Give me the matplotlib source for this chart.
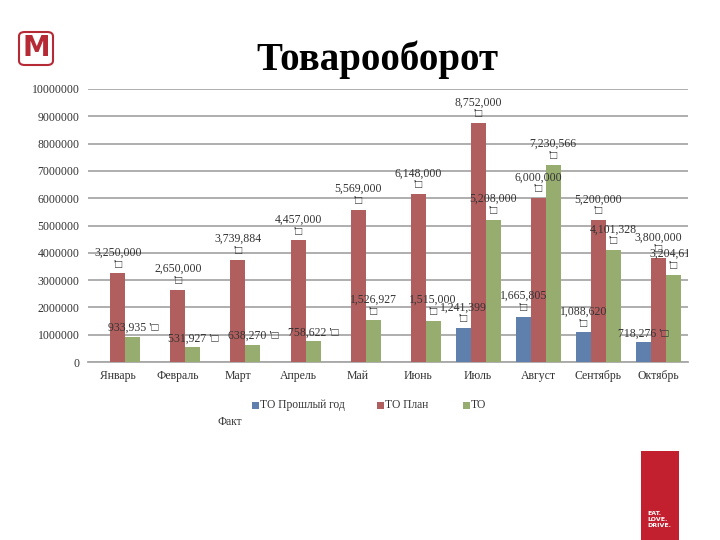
import numpy as np
import matplotlib
matplotlib.use("Agg")
from matplotlib import pyplot as plt
from matplotlib.patches import FancyBboxPatch, Rectangle

# data
months = ["Январь", "Февраль", "Март", "Апрель", "Май", "Июнь",
          "Июль", "Август", "Сентябрь", "Октябрь"]
prev_year = [0, 0, 0, 0, 0, 0, 1241399, 1665805, 1088620, 718276]
plan = [3250000, 2650000, 3739884, 4457000, 5569000, 6148000,
        8752000, 6000000, 5200000, 3800000]
fact = [933935, 531927, 638270, 758622, 1526927, 1515000,
        5208000, 7230566, 4101328, 3204610]
series_names = ["ТО Прошлый год", "ТО План", "ТО"]
yticks = [0, 1000000, 2000000, 3000000, 4000000, 5000000,
          6000000, 7000000, 8000000, 9000000, 10000000]

c_blue = "#5f80ad"
c_red = "#b05f5e"
c_green = "#97ad70"
colors = [c_blue, c_red, c_green]
serif = ["Liberation Serif", "DejaVu Serif"]
lab_font = ["Liberation Serif", "DejaVu Sans"]

fig = plt.figure(figsize=(7.2, 5.4), dpi=100)
ax = fig.add_axes([0.122, 0.3296, 0.834, 0.5056])

x = np.arange(len(months))
w = 0.25
ax.bar(x - w, prev_year, w, color=c_blue, zorder=3)
ax.bar(x, plan, w, color=c_red, zorder=3)
ax.bar(x + w, fact, w, color=c_green, zorder=3)

ax.set_xlim(-0.5, len(months) - 0.5)
ax.set_ylim(0, 10000000)
ax.set_yticks(yticks)
ax.set_yticklabels([str(v) for v in yticks], family=serif, fontsize=8.5, color="#333333")
ax.set_xticks(x)
ax.set_xticklabels(months, family=serif, fontsize=8.5, color="#333333")
ax.tick_params(length=0, pad=6)
ax.grid(axis="y", color="#a8a8a8", lw=1.3, zorder=0)
for s in ["top", "right", "left"]:
    ax.spines[s].set_visible(False)
ax.spines["bottom"].set_color("#a8a8a8")
ax.spines["bottom"].set_linewidth(1.3)


def label(xpos, val, one_line=False):
    txt = "{:,}".format(val)
    if one_line:
        s = txt + " '\u25a1"
    else:
        s = txt + "\n'\u25a1"
    ax.annotate(s, (xpos, val), xytext=(0, 2), textcoords="offset points",
                ha="center", va="bottom", family=lab_font, fontsize=8.5,
                color="#333333", linespacing=1.0, clip_on=True, zorder=4,
                annotation_clip=False)


for i in range(len(months)):
    if prev_year[i] > 0:
        label(x[i] - w, prev_year[i], one_line=(i == 9))
    label(x[i], plan[i])
    label(x[i] + w, fact[i], one_line=(i < 4))

# legend (drawn by hand to keep the odd wrapping of the original)
leg_x = [252, 377, 463]
leg_y = 405
for name, col, lx in zip(series_names, colors, leg_x):
    fig.patches.append(Rectangle((lx / 720, 1 - (leg_y + 3.5) / 540), 7 / 720, 7 / 540,
                                 transform=fig.transFigure, facecolor=col,
                                 edgecolor="none"))
    fig.text((lx + 8) / 720, 1 - leg_y / 540, name, family=serif, fontsize=8.3,
             color="#333333", va="center")
fig.text(218 / 720, 1 - 422 / 540, "Факт", family=serif, fontsize=8.3,
         color="#333333", va="center")

# title
fig.text(0.524, 1 - 60 / 540, "Товарооборот", family=serif, fontsize=28,
         weight="bold", ha="center", va="center")

# logo
logo = FancyBboxPatch((19 / 720, 1 - 65 / 540), 34 / 720, 33 / 540,
                      boxstyle="round,pad=0,rounding_size=0.008",
                      transform=fig.transFigure, facecolor="white",
                      edgecolor="#b52a35", lw=1.5)
fig.patches.append(logo)
fig.text(36 / 720, 1 - 48.5 / 540, "M", family="DejaVu Sans", fontsize=20,
         weight="bold", color="#b52a35", ha="center", va="center")

# red banner bottom right
fig.patches.append(Rectangle((641 / 720, 0), 38 / 720, 89 / 540,
                             transform=fig.transFigure, facecolor="#c2202e",
                             edgecolor="none"))
fig.text(647 / 720, 13 / 540, "EAT.\nLOVE.\nDRIVE.", family="DejaVu Sans",
         fontsize=4.5, weight="bold", color="white", linespacing=1.2)

fig.savefig("out.png", dpi=100)
